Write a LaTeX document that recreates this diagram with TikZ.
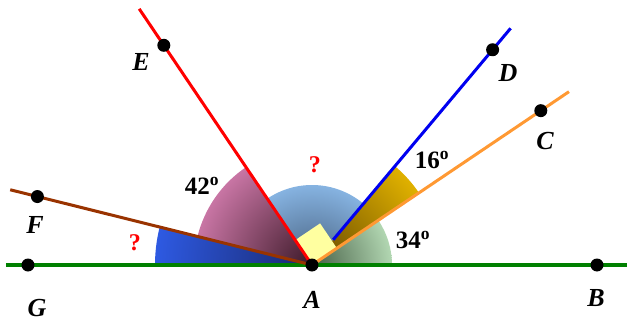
\documentclass[tikz,border=0pt]{standalone}
\usepackage{fontspec}
\setmainfont{Liberation Serif}
\usepackage{tikz}
\usetikzlibrary{positioning, calc}

\definecolor{groundgreen}{RGB}{0,128,0}
\definecolor{fbrown}{RGB}{153,51,0}
\definecolor{corange}{RGB}{255,153,51}
\definecolor{dblue}{RGB}{0,0,240}
\definecolor{pinkout}{RGB}{235,140,195}
\definecolor{pinkin}{RGB}{60,25,40}
\definecolor{blueout}{RGB}{51,102,255}
\definecolor{bluein}{RGB}{25,40,110}
\definecolor{skyout}{RGB}{150,200,250}
\definecolor{skyin}{RGB}{70,95,125}
\definecolor{mintout}{RGB}{205,245,205}
\definecolor{mintin}{RGB}{70,95,70}
\definecolor{goldout}{RGB}{255,204,0}
\definecolor{goldin}{RGB}{100,70,0}
\definecolor{sqyellow}{RGB}{255,255,160}

% shaded wedge at A: start angle, end angle, radius, inner colour, outer colour
\newcommand{\wedgefill}[5]{%
  \begin{scope}
    \clip (0,0) -- (#1:#3) arc[start angle=#1, end angle=#2, radius=#3] -- cycle;
    \shade[inner color=#4, outer color=#5] (0,0) circle[radius=1.25*#3];
  \end{scope}}

\begin{document}
\begin{tikzpicture}[
    x=1pt, y=1pt,
    dot/.style={circle, fill=black, inner sep=0pt, minimum size=13pt},
    lbl/.style={font=\fontsize{26}{28}\selectfont\bfseries\itshape},
    deg/.style={font=\fontsize{25}{27}\selectfont\bfseries},
    qmark/.style={font=\fontsize{24}{26}\selectfont\bfseries, text=red},
    ray/.style={line width=3pt}
]
    \useasboundingbox (-312,-57) rectangle (315,265);

    % Angle wedges
    \wedgefill{50}{124}{80}{skyin}{skyout}
    \wedgefill{0}{34}{80}{mintin}{mintout}
    \wedgefill{34}{50}{129}{goldin}{goldout}
    \wedgefill{124}{166}{118}{pinkin}{pinkout}
    \wedgefill{166}{180}{157}{bluein}{blueout}

    % Right angle mark
    \fill[sqyellow, rotate=34] (0,0) rectangle (30,30);

    % Points
    \coordinate (A0) at (0,0);
    \coordinate (Gend) at (-306,0);
    \coordinate (Bend) at (315,0);
    \coordinate (Fend) at (166:311);
    \coordinate (Eend) at (124:309);
    \coordinate (Dstart) at (50:33);
    \coordinate (Dend) at (50:309);
    \coordinate (Cend) at (34:310);

    % Rays
    \draw[groundgreen, line width=4.5pt] (Gend) -- (Bend);
    \draw[ray, fbrown] (A0) -- (Fend);
    \draw[ray, red] (A0) -- (Eend);
    \draw[ray, dblue] (Dstart) -- (Dend);
    \draw[ray, corange] (A0) -- (Cend);

    % Dots
    \node[dot] (A) at (A0) {};
    \node[dot] (G) at (-284,0) {};
    \node[dot] (B) at (285,0) {};
    \node[dot] (F) at (166:283) {};
    \node[dot] (E) at (124:265) {};
    \node[dot] (D) at (50:281) {};
    \node[dot] (C) at (34:276) {};

    % Letters
    \node[lbl] (lA) at (0,-35) {A};
    \node[lbl] (lB) at (284,-33) {B};
    \node[lbl] (lG) at (-275,-43) {G};
    \node[lbl] (lF) at (-277,40) {F};
    \node[lbl] (lE) at (-171,203) {E};
    \node[lbl] (lD) at (196,192) {D};
    \node[lbl] (lC) at (233,124) {C};

    % Angle labels
    \node[deg] (a42) at (-110,79) {42\textsuperscript{o}};
    \node[deg] (a16) at (120,105) {16\textsuperscript{o}};
    \node[deg] (a34) at (101,25) {34\textsuperscript{o}};
    \node[qmark] (q1) at (3,100) {?};
    \node[qmark] (q2) at (-177,22) {?};
\end{tikzpicture}
\end{document}
